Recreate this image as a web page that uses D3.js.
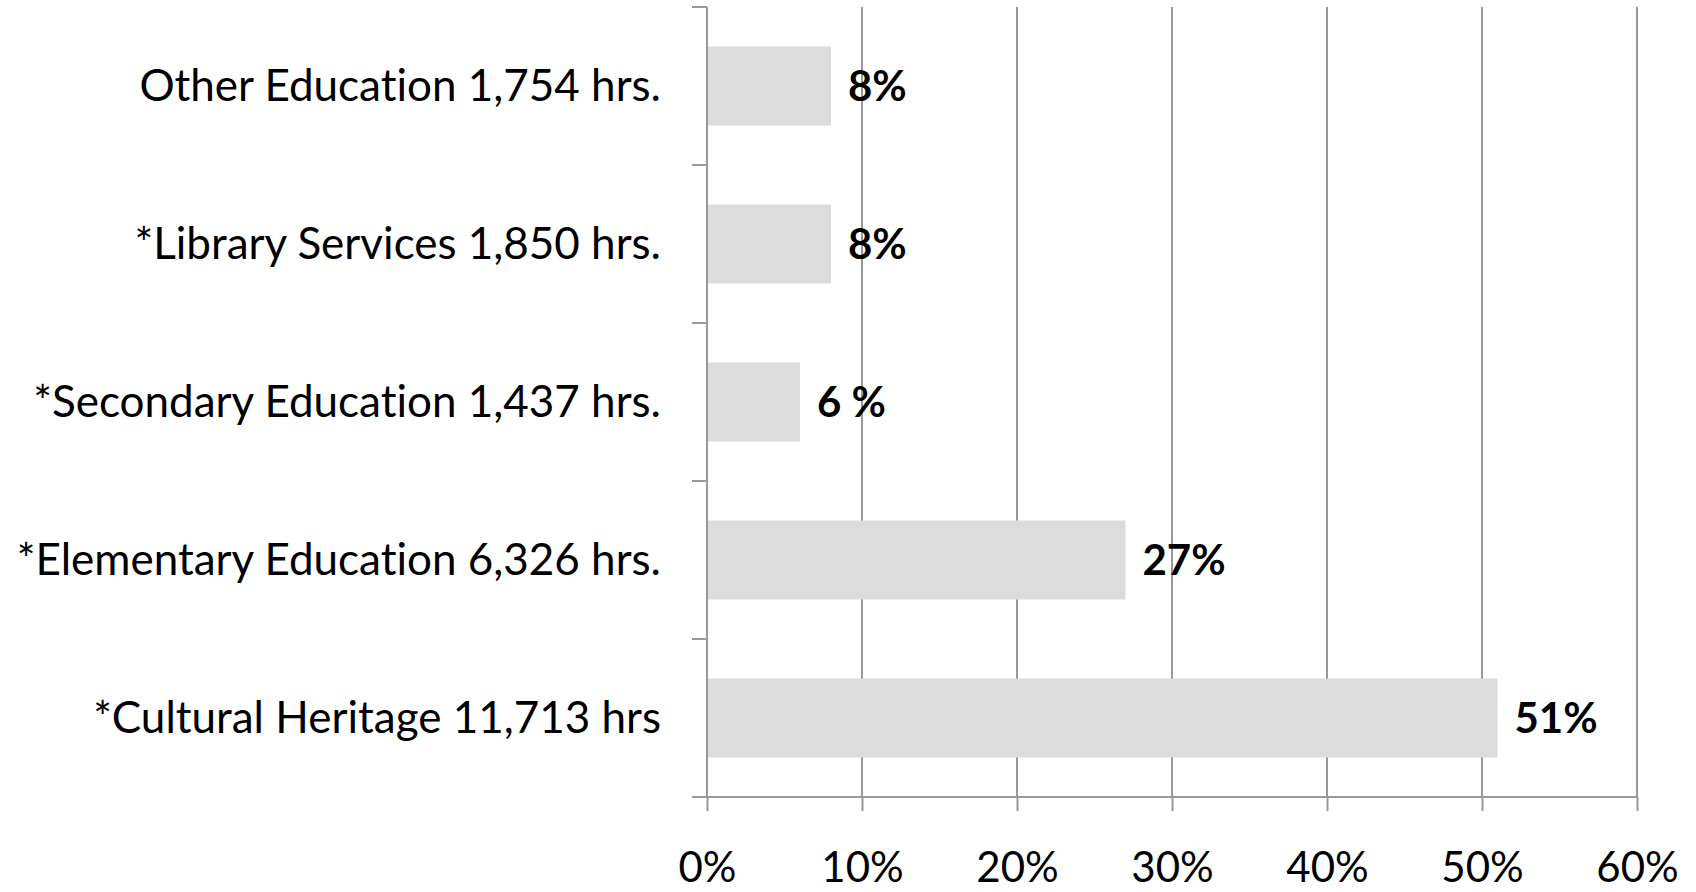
<!DOCTYPE html>
<html>
<head>
<meta charset="utf-8">
<script src="https://cdn.jsdelivr.net/npm/d3@7"></script>
<style>
  html, body { margin: 0; padding: 0; background: #fff; }
  svg { display: block; }
  text { font-family: Lato, "Open Sans", sans-serif; font-variant-ligatures: none; font-feature-settings: "liga" 0; }
</style>
</head>
<body>
<svg id="chart" width="1696" height="892"></svg>
<script>
const categories = [
  "Other Education 1,754 hrs.",
  "*Library Services 1,850 hrs.",
  "*Secondary Education 1,437 hrs.",
  "*Elementary Education 6,326 hrs.",
  "*Cultural Heritage 11,713 hrs"
];
const values = [0.08, 0.08, 0.06, 0.27, 0.51];
const valueLabels = ["8%", "8%", "6 %", "27%", "51%"];
const xTicks = [0, 0.1, 0.2, 0.3, 0.4, 0.5, 0.6];

const svg = d3.select("#chart");
const plotLeft = 707, plotRight = 1637, plotTop = 7, plotBottom = 797;
const catFontSize = 44;
const fontSize = 42;
const gridColor = "#999999";
const barColor = "#dcdcdc";

const x = d3.scaleLinear().domain([0, 0.6]).range([plotLeft, plotRight]);
const y = d3.scaleBand().domain(categories).range([plotTop, plotBottom])
  .paddingInner(0.5).paddingOuter(0.25);

// vertical gridlines
svg.append("g").selectAll("line").data(xTicks.filter(d => d > 0)).join("line")
  .attr("x1", d => x(d)).attr("x2", d => x(d))
  .attr("y1", plotTop).attr("y2", plotBottom)
  .attr("stroke", gridColor).attr("stroke-width", 2);

// bars
svg.append("g").selectAll("rect").data(categories).join("rect")
  .attr("x", x(0))
  .attr("y", d => y(d))
  .attr("width", (d, i) => x(values[i]) - x(0))
  .attr("height", y.bandwidth())
  .attr("fill", barColor);

// x axis
const xAxis = d3.axisBottom(x).tickValues(xTicks).tickFormat(d3.format(".0%"))
  .tickSize(14).tickSizeOuter(0);
const gx = svg.append("g").attr("transform", `translate(0,${plotBottom})`).call(xAxis);
gx.select(".domain").attr("stroke", gridColor).attr("stroke-width", 2)
  .attr("d", `M${plotLeft - 15},0H${plotRight}`);
gx.selectAll(".tick line").attr("stroke", gridColor).attr("stroke-width", 2);
gx.selectAll(".tick text")
  .attr("y", 85).attr("dy", 0)
  .attr("fill", "#000")
  .style("font-size", fontSize + "px")
  .style("font-family", "Lato, 'Open Sans', sans-serif");

// y axis line + ticks at band boundaries
const step = y.step();
const boundaries = categories.map(c => y(c) - step * y.paddingInner() / 2).concat([y.range()[1]]);
svg.append("line")
  .attr("x1", plotLeft).attr("x2", plotLeft).attr("y1", plotTop).attr("y2", plotBottom)
  .attr("stroke", gridColor).attr("stroke-width", 2);
svg.append("g").selectAll("line").data(boundaries).join("line")
  .attr("x1", plotLeft - 15).attr("x2", plotLeft)
  .attr("y1", d => d).attr("y2", d => d)
  .attr("stroke", gridColor).attr("stroke-width", 2);

// category labels
svg.append("g").selectAll("text").data(categories).join("text")
  .attr("x", plotLeft - 46)
  .attr("y", d => y(d) + y.bandwidth() / 2)
  .attr("dy", "0.35em")
  .attr("text-anchor", "end")
  .attr("fill", "#000")
  .style("font-size", catFontSize + "px")
  .text(d => d);

// value labels
svg.append("g").selectAll("text").data(categories).join("text")
  .attr("x", (d, i) => x(values[i]) + 17)
  .attr("y", d => y(d) + y.bandwidth() / 2)
  .attr("dy", "0.35em")
  .attr("fill", "#000")
  .style("font-size", fontSize + "px")
  .style("font-weight", "bold")
  .text((d, i) => valueLabels[i]);
</script>
</body>
</html>
